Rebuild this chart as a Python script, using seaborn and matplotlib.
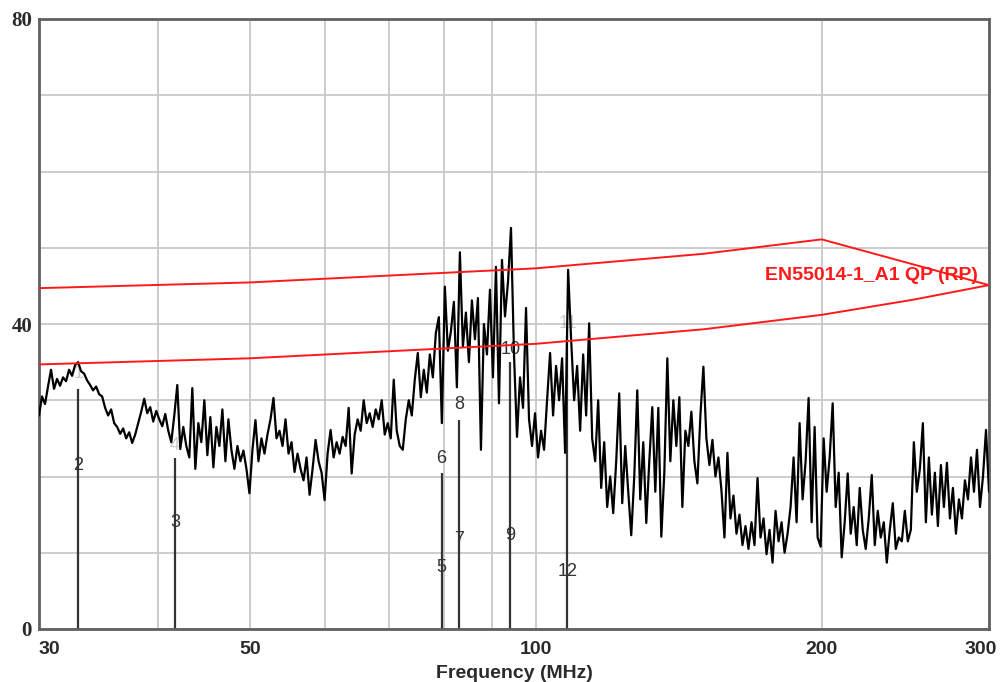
import numpy as np
import pandas as pd
import matplotlib
matplotlib.use("Agg")
import matplotlib.pyplot as plt
import matplotlib.transforms as mtransforms
import seaborn as sns

# Radiated emission scan, 30 - 300 MHz, level in dBuV/m
level_dbuv = [
    28.0, 30.5, 29.5, 31.8, 34.0, 31.5, 32.8, 31.9, 33.0, 32.5, 34.0, 33.2, 34.6, 35.0, 33.8, 33.5,
    32.6, 32.0, 31.3, 31.8, 30.8, 30.5, 29.0, 28.0, 28.8, 27.0, 26.5, 25.6, 26.3, 25.0, 25.8, 24.4,
    25.5, 27.0, 28.5, 30.2, 28.3, 29.1, 27.2, 28.6, 27.5, 26.6, 28.2, 26.0, 24.5, 28.0, 32.0, 23.6,
    26.5, 24.0, 22.5, 31.6, 21.0, 27.0, 24.5, 30.0, 22.8, 27.8, 21.2, 26.5, 24.0, 28.8, 22.0, 27.5,
    23.5, 21.0, 24.0, 22.0, 23.4, 21.0, 17.8, 23.5, 27.4, 22.0, 25.0, 23.0, 25.5, 27.5, 30.3, 25.0,
    26.0, 24.0, 27.5, 23.0, 24.5, 20.6, 23.0, 21.0, 19.5, 22.5, 17.6, 21.0, 24.8, 22.0, 20.5, 16.9,
    23.0, 26.1, 22.5, 24.5, 23.0, 25.2, 24.0, 29.0, 20.4, 25.5, 27.5, 26.0, 30.0, 27.0, 28.3, 26.5,
    28.8, 27.5, 30.0, 25.5, 27.0, 25.0, 32.7, 26.0, 24.0, 23.5, 27.5, 30.0, 28.0, 32.7, 36.2, 30.4,
    34.0,
    31.0, 36.0, 33.0, 38.8, 40.9, 27.0, 44.9, 36.5, 39.0, 42.9, 31.7, 49.4, 37.0, 41.5, 35.0, 43.1,
    38.0, 43.4, 23.5, 40.0, 36.0, 44.5, 33.0, 47.5, 29.6, 48.4, 41.0, 45.5, 52.6, 36.0, 25.2, 33.0,
    29.0, 42.1, 27.5, 24.0, 28.3, 22.5, 26.0, 23.5, 30.0, 36.2, 28.0, 34.5, 30.0, 35.5, 23.1, 47.1,
    38.0, 30.0, 34.5, 26.0, 36.0, 28.0, 40.1, 25.0, 22.0, 30.0, 18.5, 24.5, 16.0, 20.0, 15.2,
    22.0, 30.9, 16.5, 24.0, 18.0, 12.3, 20.0, 31.3, 17.0, 24.5, 13.9, 22.0, 29.1, 18.0, 29.0, 12.1,
    20.5, 35.5, 22.0, 30.0, 24.0, 30.4, 16.0, 26.0, 24.0, 28.5, 22.0, 19.1, 28.0, 34.4, 25.0, 21.5,
    24.8, 20.0, 22.5, 18.2, 12.0, 23.1, 14.5, 17.5, 12.5, 15.0, 11.0, 13.5, 10.5, 14.0, 11.0, 19.8,
    12.0, 14.5, 9.8, 13.0, 8.7, 15.5, 11.5, 14.0, 10.0, 12.5, 16.0, 22.5, 14.0, 27.0, 17.0,
    22.0, 30.3, 14.0, 26.5, 12.0, 10.8, 25.0, 18.0, 22.5, 29.6, 16.0, 20.5, 9.4, 14.0, 20.4, 12.5,
    16.0, 11.0, 18.5, 13.0, 10.5, 14.5, 20.2, 11.0, 15.5, 12.0, 14.0, 8.7, 13.0, 16.5, 10.5, 12.0,
    11.5, 15.5, 11.5, 13.0, 24.5, 18.0, 21.0, 27.0, 14.0, 22.5, 15.0, 20.5, 13.5, 21.5, 16.0, 21.8,
    14.5, 18.5, 12.5, 17.0, 14.5, 19.5, 17.0, 22.5, 18.0, 23.5, 16.0, 20.0, 26.1, 18.0,
]
# sweep points are log spaced over the scan range
freq_mhz = np.geomspace(30, 300, len(level_dbuv))

# limit line outline (upper edge, then back along the lower edge)
limit_freq = [30, 50, 100, 150, 200, 300, 250, 200, 150, 100, 50, 30]
limit_level = [44.7, 45.45, 47.3, 49.2, 51.1, 45.1, 43.2, 41.2, 39.3, 37.4, 35.5, 34.7]
limit_name = "EN55014-1_A1 QP (RP)"

# markers: frequency, height of marker line, labels
marker_freq = [33.0, 41.7, 79.6, 83.0, 94.0, 108.0]
marker_top = [31.5, 22.4, 20.5, 27.4, 35.0, 38.5]
upper_labels = ["1", "4", "6", "8", "10", "11"]
upper_pos = [33.5, 24.0, 22.3, 29.4, 36.6, 40.0]
lower_labels = ["2", "3", "5", "7", "9", "12"]
lower_pos = [21.5, 14.0, 8.1, 11.7, 12.3, 7.6]

grid_freq = [30, 40, 50, 60, 70, 80, 90, 100, 200, 300]
freq_labels = ["30", "", "50", "", "", "", "", "100", "200", "300"]
y_ticks = [0, 10, 20, 30, 40, 50, 60, 70, 80]
y_labels = ["0", "", "", "", "40", "", "", "", "80"]

sns.set_style("white")
plt.rcParams['font.family'] = ['Liberation Sans', 'DejaVu Sans']

fig = plt.figure(figsize=(10.03, 6.82), dpi=100)
ax = fig.add_axes([39 / 1003, 53 / 682, 950 / 1003, 610 / 682])

trace = pd.DataFrame({"freq": freq_mhz, "level": level_dbuv})
limit = pd.DataFrame({"freq": limit_freq, "level": limit_level})

ax.vlines(marker_freq, 0, marker_top, colors="#333333", lw=1.6, zorder=2.2)
# labels 1, 4 and 11 sit inside the trace and are mostly covered by it
hidden = {"1", "4", "11"}
for f, lab, y in zip(marker_freq, upper_labels, upper_pos):
    ax.text(f, y, lab, ha="center", va="center", fontsize=13, color="#333333",
            alpha=0.25 if lab in hidden else 1.0, zorder=2.4)
for f, lab, y in zip(marker_freq, lower_labels, lower_pos):
    ax.text(f, y, lab, ha="center", va="center", fontsize=13, color="#333333", zorder=2.4)

sns.lineplot(data=trace, x="freq", y="level", sort=False, estimator=None,
             color="black", lw=1.6, ax=ax, zorder=3)
sns.lineplot(data=limit, x="freq", y="level", sort=False, estimator=None,
             color="#ff1a1a", lw=1.4, ax=ax, zorder=4)
ax.text(292, 46.4, limit_name, ha="right", va="center", color="#ff1a1a",
        fontsize=14, fontweight="bold", zorder=3.5)

ax.set_xscale("log")
ax.set_xlim(30, 300)
ax.set_ylim(0, 80)
ax.xaxis.set_minor_locator(plt.NullLocator())
ax.set_xticks(grid_freq, labels=freq_labels)
ax.set_yticks(y_ticks, labels=y_labels)
ax.grid(True, color="#c8c8c8", lw=1.3)
ax.set_axisbelow(True)
ax.tick_params(axis="x", length=0, pad=9, labelsize=14, labelcolor="#2a2a2a")
ax.tick_params(axis="y", length=0, pad=5, labelsize=15, labelcolor="#2a2a2a")
for lab in ax.get_xticklabels():
    lab.set_fontweight("bold")
for lab in ax.get_yticklabels():
    lab.set_fontweight("bold")
    lab.set_family(["Liberation Serif", "DejaVu Serif"])
xl = ax.get_xticklabels()
xl[0].set_ha("left")
xl[-1].set_ha("right")
xl[-1].set_transform(xl[-1].get_transform() + mtransforms.ScaledTranslation(0.08, 0, fig.dpi_scale_trans))

ax.set_xlabel("Frequency (MHz)", fontsize=14, fontweight="bold", color="#2a2a2a", labelpad=5)
ax.set_ylabel("")
for s in ax.spines.values():
    s.set_color("#606060")
    s.set_linewidth(2)

plt.savefig("out.png", dpi=100)
